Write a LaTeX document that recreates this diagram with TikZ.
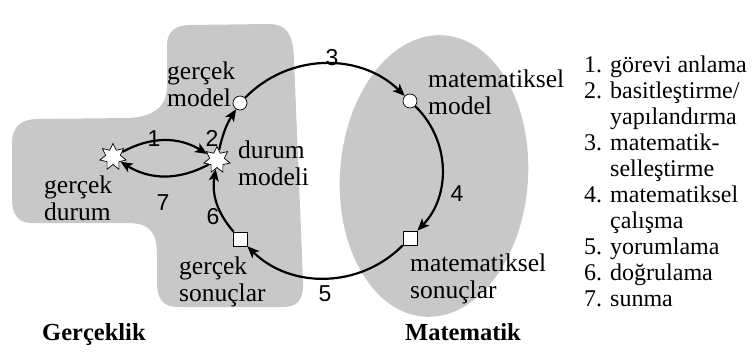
\documentclass[tikz,border=0pt]{standalone}
\usepackage{fontspec}
\setmainfont{Liberation Serif}
\setsansfont{Liberation Sans}
\usetikzlibrary{shapes.geometric,arrows.meta}
\definecolor{blobgray}{RGB}{200,200,200}
\begin{document}
\begin{tikzpicture}[x=1pt,y=1pt,
  lbl/.style={font=\fontsize{25.5}{27.5}\selectfont, align=left, inner sep=0pt, anchor=north west},
  lst/.style={font=\fontsize{24}{26}\selectfont, align=left, inner sep=0pt, anchor=north west},
  hdr/.style={font=\fontsize{24.5}{26}\selectfont\bfseries, inner sep=0pt, anchor=north west},
  num/.style={font=\sffamily\fontsize{23}{23}\selectfont, inner sep=0pt},
  conn/.style={line width=2.2pt, -{Stealth[length=12pt,width=10pt,inset=3pt]}},
  circ/.style={circle, draw, fill=white, line width=0.7pt, minimum size=14pt, inner sep=0pt},
  sq/.style={rectangle, draw, fill=white, line width=0.7pt, minimum size=14pt, inner sep=0pt},
  st/.style={star, star points=7, star point ratio=1.8, draw, fill=white, line width=0.7pt, minimum size=27pt, inner sep=0pt},
]
\useasboundingbox (0,0) rectangle (752,-354);
% gray regions
\fill[blobgray] (190,-25) -- (268,-24) .. controls (288,-24) and (293,-35) .. (294,-60)
 -- (303,-280) .. controls (304,-300) and (298,-307) .. (282,-307)
 -- (178,-307) .. controls (162,-307) and (157,-298) .. (157,-282)
 -- (157,-255) .. controls (157,-232) and (150,-224) .. (130,-223)
 -- (32,-223) .. controls (18,-223) and (12,-214) .. (12,-200)
 -- (12,-143) .. controls (12,-128) and (20,-120) .. (35,-119)
 -- (130,-118) .. controls (155,-116) and (167,-106) .. (167,-86)
 -- (167,-45) .. controls (167,-32) and (175,-25) .. (190,-25) -- cycle;
\fill[blobgray, rotate around={-4:(434,-176)}] (434,-176) ellipse [x radius=94, y radius=141];
% symbols
\node[st] (gd) at (113,-157) {};
\node[st] (dm) at (217,-160) {};
\node[circ] (gm) at (240,-103) {};
\node[circ] (mm) at (410,-101) {};
\node[sq] (ms) at (410,-238) {};
\node[sq] (gs) at (240,-239) {};
% connectors
\draw[conn] (gm) to[bend left=45] (mm);
\draw[conn] (mm) to[bend left=45] (ms);
\draw[conn] (ms) to[bend left=45] (gs);
\draw[conn] (gs) to[bend left=25] (dm);
\draw[conn] (dm) to[bend left=10] (gm);
\draw[conn] (gd) to[bend left=30] (dm);
\draw[conn] (dm) to[bend left=30] (gd);
% numbers
\node[num] (n1) at (154,-139) {1};
\node[num] (n2) at (212,-138) {2};
\node[num] (n3) at (332,-58) {3};
\node[num] (n4) at (457,-194) {4};
\node[num] (n5) at (325,-294) {5};
\node[num] (n6) at (213,-217) {6};
\node[num] (n7) at (163,-203) {7};
% labels
\node[lbl] (tgm) at (167,-61.5) {gerçek\\model};
\node[lbl] (tmm) at (428,-69.5) {matematiksel\\model};
\node[lbl] (tdm) at (238,-140.5) {durum\\modeli};
\node[lbl] (tgd) at (44,-175.5) {gerçek\\durum};
\node[lbl] (tgs) at (179,-256.5) {gerçek\\sonuçlar};
\node[lbl] (tms) at (410,-253.5) {matematiksel\\sonuçlar};
\node[hdr] (hg) at (42,-323) {Gerçeklik};
\node[hdr] (hm) at (405,-323) {Matematik};
\node[lst] (list) at (584,-55.8) {1. görevi anlama\\2. basitleştirme/\\\hphantom{2. }yapılandırma\\3. matematik-\\\hphantom{3. }selleştirme\\4. matematiksel\\\hphantom{4. }çalışma\\5. yorumlama\\6. doğrulama\\7. sunma};
\end{tikzpicture}
\end{document}
